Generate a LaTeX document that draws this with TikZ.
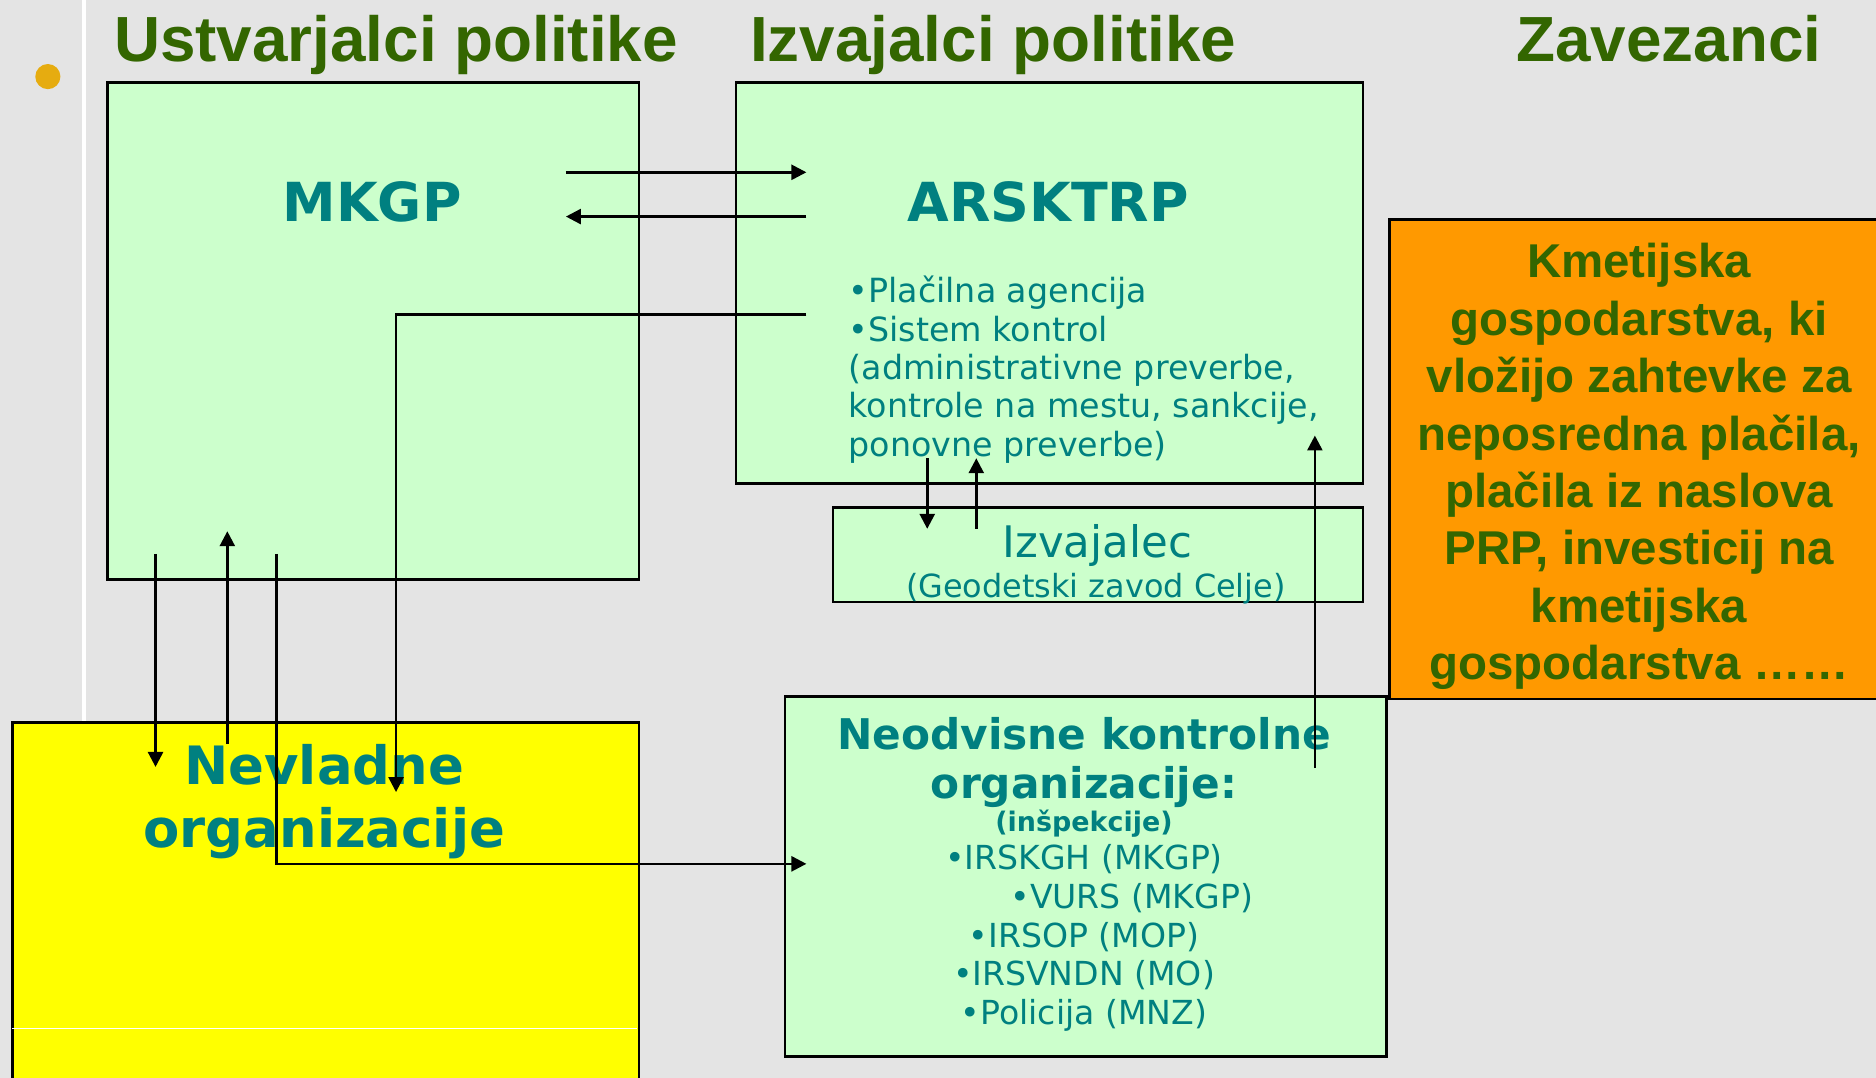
\documentclass[tikz,border=0pt]{standalone}
\usepackage{fontspec}
\setmainfont{DejaVu Sans}
\newfontfamily\headfont{Liberation Sans}
\usepackage{xcolor}
\usepackage{tikz}
\usetikzlibrary{arrows.meta,positioning,calc}

\definecolor{bggray}{RGB}{228,228,228}
\definecolor{titlegreen}{RGB}{51,102,0}
\definecolor{boxgreen}{RGB}{204,255,204}
\definecolor{tealtext}{RGB}{0,128,128}
\definecolor{boxorange}{RGB}{255,153,0}
\definecolor{boxyellow}{RGB}{255,255,0}
\definecolor{dotgold}{RGB}{230,172,16}

\tikzset{
  box/.style={draw=black, line width=1.4pt, anchor=north west, inner sep=0pt},
  greenbox/.style={box, fill=boxgreen},
  headline/.style={anchor=base, inner sep=0pt, text=titlegreen, font=\headfont\bfseries\fontsize{32}{38}\selectfont},
  boxtitle/.style={anchor=base, inner sep=0pt, text=tealtext, font=\bfseries\fontsize{27}{32}\selectfont},
  plain/.style={inner sep=0pt, text=tealtext},
  link/.style={-{Triangle[length=7.5pt,width=7.5pt]}, line width=1.3pt},
}

\begin{document}
\begin{tikzpicture}[x = 0.6pt, y = -0.6pt]
    \fill[bggray] (0,0) rectangle (1568,901);
    \useasboundingbox (0,0) rectangle (1568,901);
    \draw[white, line width=2pt] (70,0) -- (70,603);
    \node[circle, fill=dotgold, inner sep=0pt, minimum size=12.6pt] (dot) at (40,64) {};

    % column heads
    \node[headline] (ustv) at (331,51) {Ustvarjalci politike};
    \node[headline] (izv) at (830,51) {Izvajalci politike};
    \node[headline] (zav) at (1395,51) {Zavezanci};

    % boxes
    \node[greenbox, minimum width=266.4pt, minimum height=249pt] (mkgpbox) at (89,68) {};
    \node[greenbox, minimum width=314.4pt, minimum height=201pt] (arsbox) at (614,68) {};
    \node[greenbox, minimum width=265.8pt, minimum height=47.4pt] (izvbox) at (695,423) {};
    \node[box, fill=boxorange, minimum width=255pt, minimum height=240.6pt] (zavbox) at (1160,182) {};
    \node[box, fill=boxyellow, minimum width=314.4pt, minimum height=190pt] (ngobox) at (9,603) {};
    \draw[white, line width=0.5pt] (10,860) -- (532,860);
    \node[greenbox, minimum width=301.8pt, minimum height=180.6pt] (nkobox) at (655,581) {};

    % texts
    \node[boxtitle] (mkgp) at (311,185) {MKGP};
    \node[boxtitle] (ars) at (876,185) {ARSKTRP};
    \node[plain, anchor=west, align=left, font=\fontsize{16.7}{19.2}\selectfont] (arslist) at (709,309)
      {•Plačilna agencija\\•Sistem kontrol\\(administrativne preverbe,\\kontrole na mestu, sankcije,\\ponovne preverbe)};
    \node[plain, anchor=base, font=\fontsize{21.8}{26}\selectfont] (izvajalec) at (917,466) {Izvajalec};
    \node[plain, anchor=base, font=\fontsize{16}{19}\selectfont] (geodet) at (916,499) {(Geodetski zavod Celje)};
    \node[plain, align=center, font=\bfseries\fontsize{26.5}{31.8}\selectfont] (ngo) at (271,670) {Nevladne\\organizacije};
    \node[plain, align=center, font=\bfseries\fontsize{21.2}{24.6}\selectfont] (nko) at (906,637) {Neodvisne kontrolne\\organizacije:};
    \node[plain, anchor=base, font=\bfseries\fontsize{13.5}{16}\selectfont] (insp) at (906,695) {(inšpekcije)};
    \node[plain, align=center, font=\fontsize{16.6}{19.35}\selectfont] (nkolist) at (906,784)
      {•IRSKGH (MKGP)\\\hspace*{48pt}•VURS (MKGP)\\•IRSOP (MOP)\\•IRSVNDN (MO)\\•Policija (MNZ)};
    \node[inner sep=0pt, align=center, text=titlegreen, font=\headfont\bfseries\fontsize{23.8}{28.8}\selectfont] (zavtext) at (1370,390)
      {Kmetijska\\gospodarstva, ki\\vložijo zahtevke za\\neposredna plačila,\\plačila iz naslova\\PRP, investicij na\\kmetijska\\gospodarstva ……};

    % arrow ends
    \coordinate (mkgpA) at (473,144);
    \coordinate (arsA) at (674,144);
    \coordinate (mkgpB) at (473,181);
    \coordinate (arsB) at (674,181);
    \coordinate (arsC) at (674,263);
    \coordinate (ngoC) at (331,662);
    \coordinate (mkgpD) at (130,463);
    \coordinate (ngoD) at (130,641);
    \coordinate (ngoE) at (190,622);
    \coordinate (mkgpE) at (190,444);
    \coordinate (mkgpF) at (231,463);
    \coordinate (nkoF) at (674,722);
    \coordinate (arsG) at (775,383);
    \coordinate (izvG) at (775,442);
    \coordinate (izvH) at (816,442);
    \coordinate (arsH) at (816,383);
    \coordinate (nkoI) at (1099,642);
    \coordinate (arsI) at (1099,364);

    \draw[link] (mkgpA) -- (arsA);
    \draw[link] (arsB) -- (mkgpB);
    \draw[link] (arsC) -| (ngoC);
    \draw[link] (mkgpD) -- (ngoD);
    \draw[link] (ngoE) -- (mkgpE);
    \draw[link] (mkgpF) |- (nkoF);
    \draw[link] (arsG) -- (izvG);
    \draw[link] (izvH) -- (arsH);
    \draw[link] (nkoI) -- (arsI);
\end{tikzpicture}
\end{document}
